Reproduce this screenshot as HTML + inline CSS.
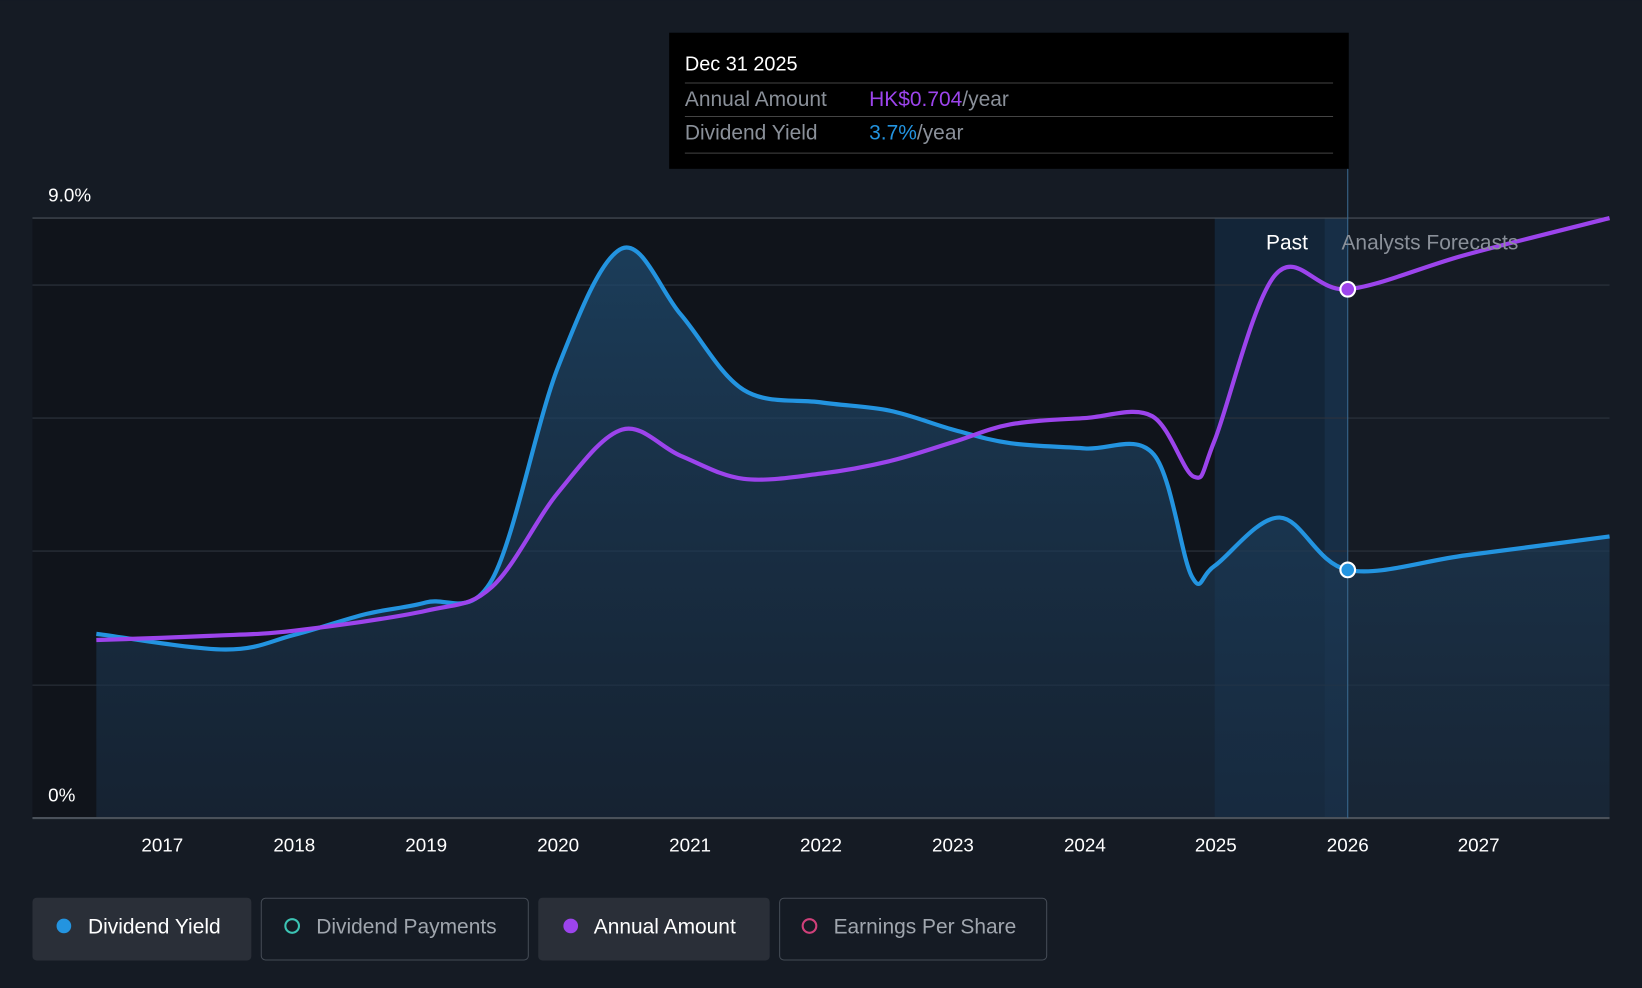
<!DOCTYPE html>
<html><head><meta charset="utf-8"><style>
html,body{margin:0;padding:0;background:#151b24;}
svg{display:block;font-family:"Liberation Sans",sans-serif;}
</style></head><body>
<svg id="s" width="1642" height="988" viewBox="0 0 1568 943" xmlns="http://www.w3.org/2000/svg">
<defs>
<linearGradient id="fg" x1="0" y1="0" x2="0" y2="1">
<stop offset="0" stop-color="#1f4a6e" stop-opacity="0.75"/>
<stop offset="1" stop-color="#1a2e44" stop-opacity="0.55"/>
</linearGradient>
</defs>
<rect x="0" y="0" width="1568" height="943" fill="#151b24"/>
<rect x="31" y="208" width="1129" height="573" fill="#10141b"/>
<rect x="1160" y="208" width="127" height="573" fill="#13283d" opacity="0.8"/>
<rect x="1265" y="208" width="22" height="573" fill="#1a3550" opacity="0.6"/>
<g stroke="#2c333d" stroke-width="1">
<line x1="31" y1="208" x2="1537" y2="208" stroke="#4a515a"/>
<line x1="31" y1="272" x2="1537" y2="272"/>
<line x1="31" y1="399" x2="1537" y2="399"/>
<line x1="31" y1="526" x2="1537" y2="526"/>
<line x1="31" y1="654" x2="1537" y2="654"/>
</g>
<path id="fill" fill="url(#fg)"/>
<line x1="31" y1="781" x2="1537" y2="781" stroke="#4a515a" stroke-width="2"/>
<line x1="1287" y1="160" x2="1287" y2="781" stroke="#3a6a90" stroke-width="1"/>
<path id="blue" fill="none" stroke="#2394e0" stroke-width="4"/>
<path id="purp" fill="none" stroke="#9c44ec" stroke-width="4"/>
<circle cx="1287" cy="544" r="7" fill="#2394e0" stroke="#fff" stroke-width="2"/>
<circle cx="1287" cy="276" r="7" fill="#9c44ec" stroke="#fff" stroke-width="2"/>
<text x="46" y="192" fill="#fff" font-size="18">9.0%</text>
<text x="46" y="765" fill="#fff" font-size="18">0%</text>
<text x="1249" y="238" fill="#fff" font-size="20" text-anchor="end">Past</text>
<text x="1281" y="238" fill="#8a9099" font-size="20">Analysts Forecasts</text>
<g fill="#fff" font-size="18" text-anchor="middle">
<text x="155" y="813">2017</text><text x="281" y="813">2018</text><text x="407" y="813">2019</text>
<text x="533" y="813">2020</text><text x="659" y="813">2021</text><text x="784" y="813">2022</text>
<text x="910" y="813">2023</text><text x="1036" y="813">2024</text><text x="1161" y="813">2025</text>
<text x="1287" y="813">2026</text><text x="1412" y="813">2027</text>
</g>
<rect x="639" y="31" width="649" height="130" fill="#000"/>
<text x="654" y="67" fill="#fff" font-size="19">Dec 31 2025</text>
<line x1="654" y1="79" x2="1273" y2="79" stroke="#444"/>
<text x="654" y="101" fill="#8a9099" font-size="20">Annual Amount</text>
<text x="830" y="101" font-size="20"><tspan fill="#9c44ec">HK$0.704</tspan><tspan fill="#8a9099">/year</tspan></text>
<line x1="654" y1="111" x2="1273" y2="111" stroke="#444"/>
<text x="654" y="133" fill="#8a9099" font-size="20">Dividend Yield</text>
<text x="830" y="133" font-size="20"><tspan fill="#2394e0">3.7%</tspan><tspan fill="#8a9099">/year</tspan></text>
<line x1="654" y1="146" x2="1273" y2="146" stroke="#444"/>
<rect x="31" y="857" width="209" height="60" rx="4" fill="#2a2f38"/>
<circle cx="61" cy="884" r="7" fill="#2394e0"/>
<text x="84" y="891" fill="#fff" font-size="20">Dividend Yield</text>
<rect x="249.5" y="857.5" width="255" height="59" rx="4" fill="none" stroke="#444b55"/>
<circle cx="279" cy="884" r="6.5" fill="none" stroke="#3cc4b4" stroke-width="2"/>
<text x="302" y="891" fill="#a0a6ae" font-size="20">Dividend Payments</text>
<rect x="514" y="857" width="221" height="60" rx="4" fill="#2a2f38"/>
<circle cx="545" cy="884" r="7" fill="#9c44ec"/>
<text x="567" y="891" fill="#fff" font-size="20">Annual Amount</text>
<rect x="744.5" y="857.5" width="255" height="59" rx="4" fill="none" stroke="#444b55"/>
<circle cx="773" cy="884" r="6.5" fill="none" stroke="#d0407a" stroke-width="2"/>
<text x="796" y="891" fill="#a0a6ae" font-size="20">Earnings Per Share</text>
</svg>
<script>
function cr(p){var d="M"+p[0][0]+","+p[0][1];for(var i=0;i<p.length-1;i++){var p0=p[i-1]||p[i],p1=p[i],p2=p[i+1],p3=p[i+2]||p2;var t=6;d+=" C"+(p1[0]+(p2[0]-p0[0])/t)+","+(p1[1]+(p2[1]-p0[1])/t)+" "+(p2[0]-(p3[0]-p1[0])/t)+","+(p2[1]-(p3[1]-p1[1])/t)+" "+p2[0]+","+p2[1];}return d;}
var b=[[92,605],[215,620],[281,606],[350,586],[407,575],[470,553],[533,350],[594,237],[650,300],[710,372],[784,384],[850,392],[910,410],[965,423],[1036,428],[1102,434],[1138,550],[1160,540],[1222,494],[1287,544],[1400,530],[1537,512]];
var q=[[92,611],[200,607],[281,602],[407,583],[470,560],[533,470],[594,410],[650,435],[710,457],[784,452],[850,440],[910,422],[965,405],[1036,399],[1100,397],[1140,455],[1160,420],[1218,262],[1287,276],[1400,243],[1537,208]];
var db=cr(b);document.getElementById("blue").setAttribute("d",db);
document.getElementById("purp").setAttribute("d",cr(q));
document.getElementById("fill").setAttribute("d",db+" L1537,781 L92,781 Z");
</script>
</body></html>
